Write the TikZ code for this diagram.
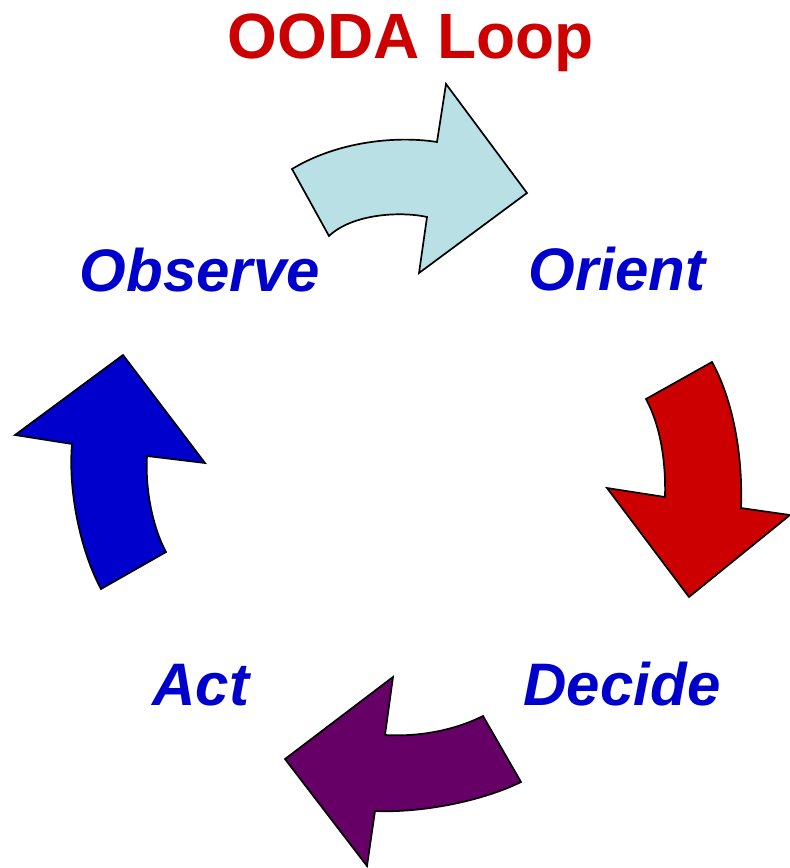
\documentclass[tikz,border=0pt]{standalone}
\usepackage{fontspec}
\setmainfont{Liberation Sans}
\usepackage{tikz}
\usetikzlibrary{positioning}
\definecolor{oodared}{RGB}{204,0,0}
\definecolor{oodablue}{RGB}{0,0,204}
\definecolor{oodacyan}{RGB}{185,224,228}
\definecolor{oodapurple}{RGB}{102,0,102}
\tikzstyle{heading} = [text=oodared, font=\fontsize{64}{64}\selectfont\bfseries, inner sep=0pt, anchor=base]
\tikzstyle{stage} = [text=oodablue, font=\fontsize{60}{60}\selectfont\bfseries\itshape, inner sep=0pt, anchor=base]
\tikzstyle{bigarrow} = [draw=black, line width=1.7pt, line join=miter]

\begin{document}
\begin{tikzpicture}[x=1pt, y=-1pt]
		\useasboundingbox (0,0) rectangle (790,868);
		\node (title) [heading] at (411,58) {OODA Loop};
		
		\node (observe) [stage] at (200,291) {Observe};
		\node (orient) [stage] at (617,290) {Orient};
		\node (act) [stage] at (201,705) {Act};
		\node (decide) [stage] at (622,705) {Decide};
		
		% observe -> orient
		\draw [bigarrow, fill=oodacyan] (292,169) .. controls (340,140) and (400,136) .. (437,142)
			-- (446,84) -- (527,193) -- (419,273) -- (427,217)
			.. controls (400,211) and (352,214) .. (329,236) -- cycle;
		% orient -> decide
		\draw [bigarrow, fill=oodared] (712,362) -- (646,399)
			.. controls (660,425) and (666,460) .. (665,497)
			-- (607,488) -- (689,597) -- (790,515) -- (741,508)
			.. controls (743,455) and (733,400) .. cycle;
		% decide -> act
		\draw [bigarrow, fill=oodapurple] (521,782) -- (483,716)
			.. controls (455,730) and (420,737) .. (385,735)
			-- (393,677) -- (285,759) -- (367,866) -- (375,811)
			.. controls (420,813) and (480,802) .. cycle;
		% act -> observe
		\draw [bigarrow, fill=oodablue] (101,589) -- (166,552)
			.. controls (153,528) and (145,490) .. (147,456)
			-- (205,463) -- (123,355) -- (15,435) -- (72,444)
			.. controls (68,490) and (80,550) .. cycle;
		\end{tikzpicture}
\end{document}
